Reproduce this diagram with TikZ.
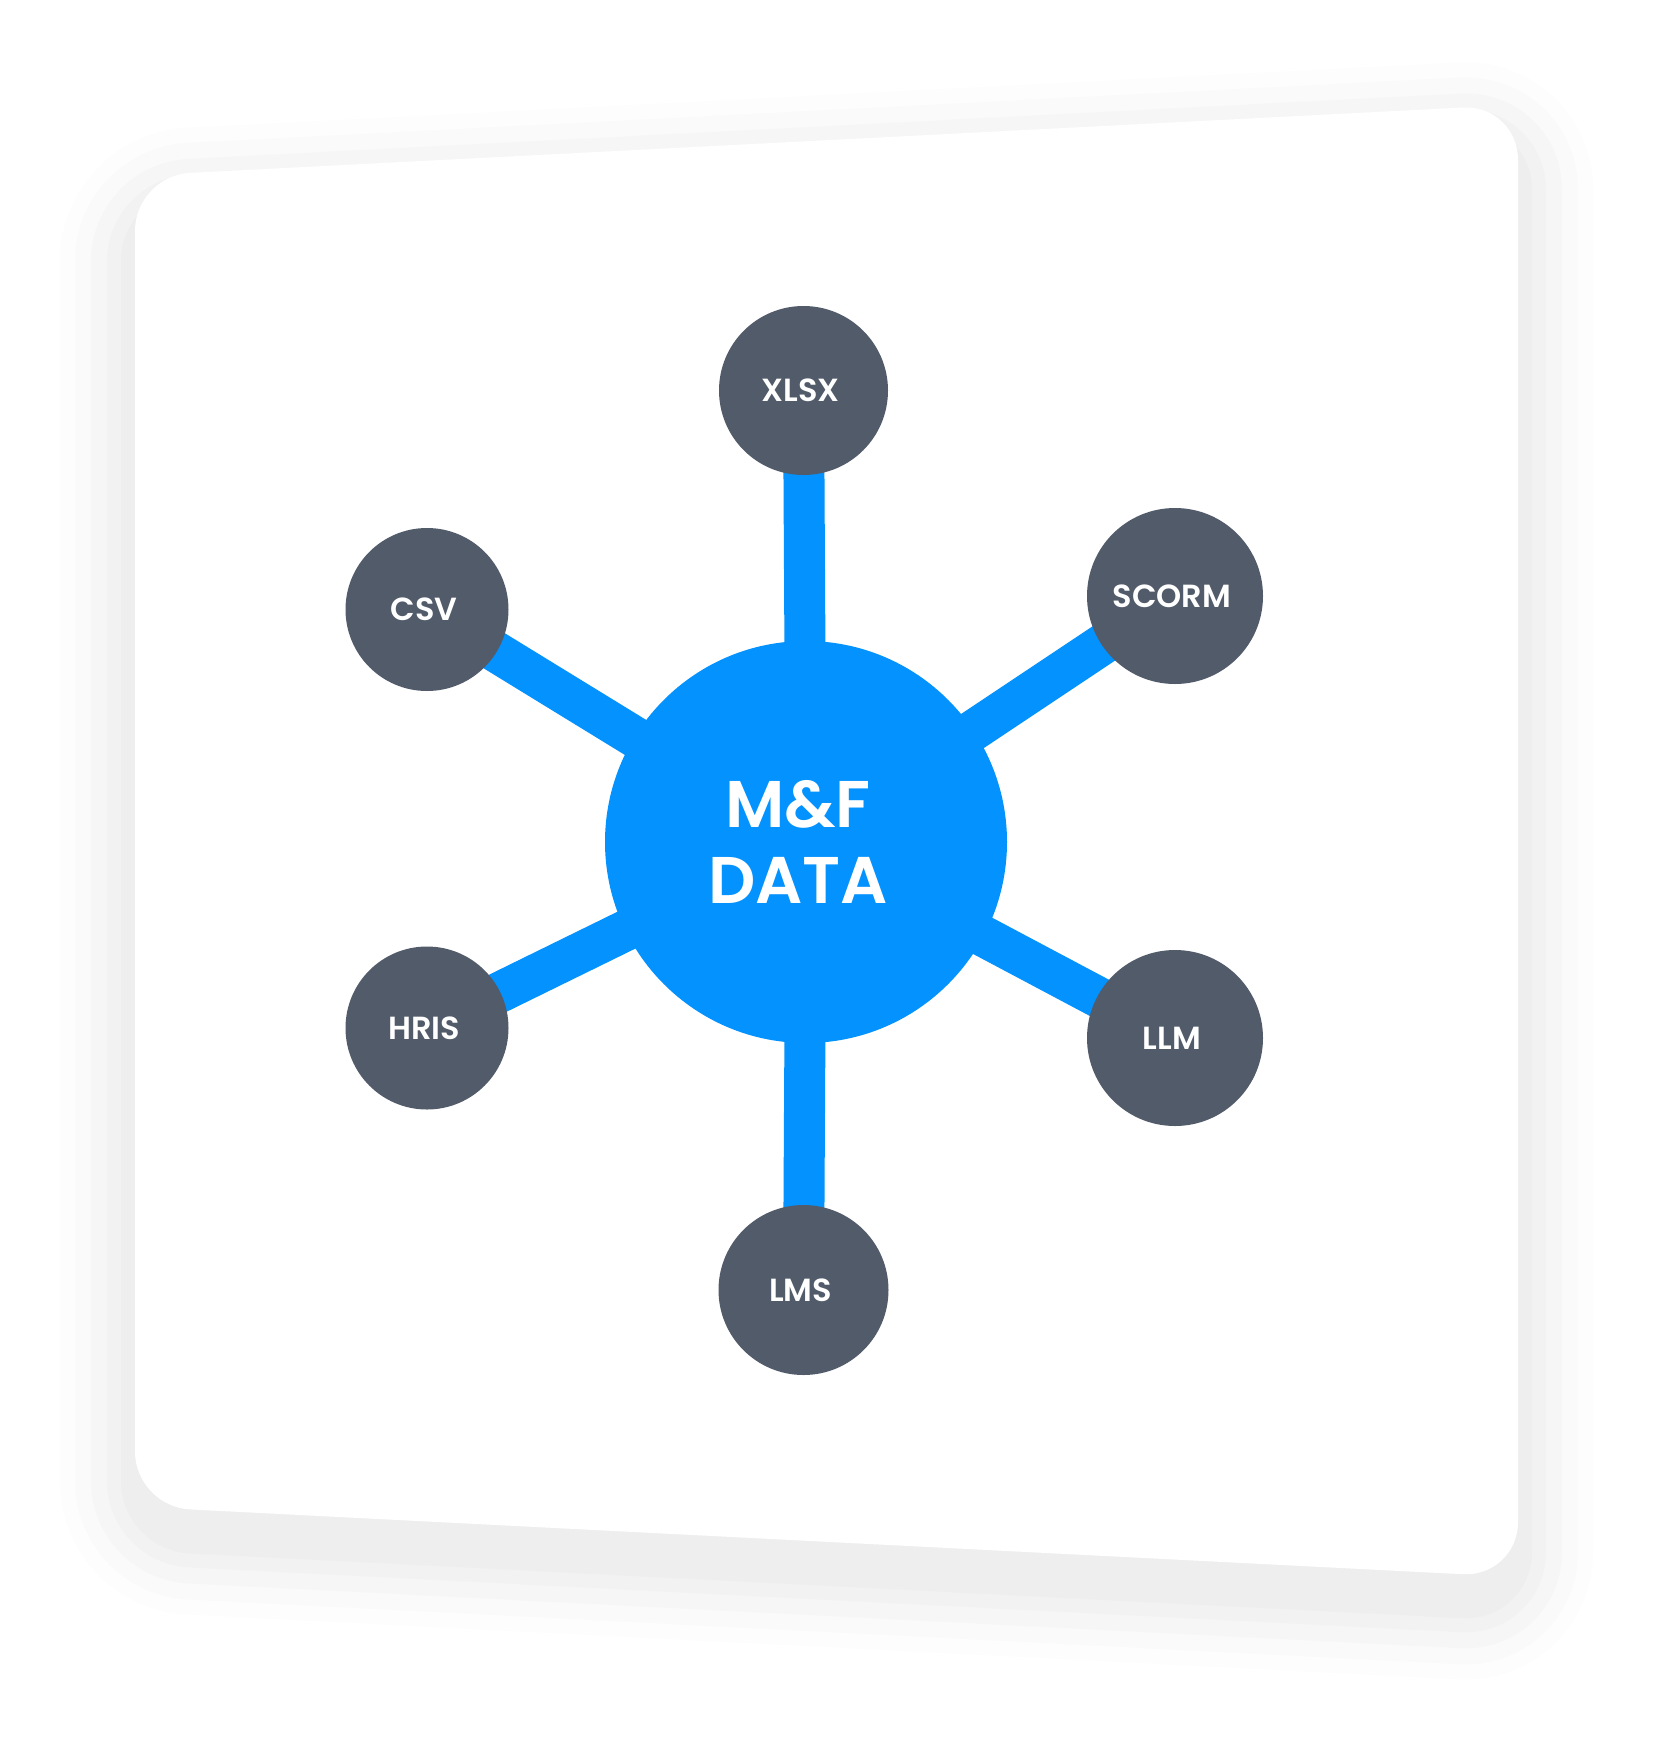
\documentclass[tikz,border=0pt]{standalone}
\usepackage{fontspec}
\IfFontExistsTF{Poppins SemiBold}
  {\setmainfont{Poppins}[BoldFont={Poppins SemiBold}]}
  {\setmainfont{Poppins}}
\definecolor{hubblue}{HTML}{0392FE}
\definecolor{satgray}{HTML}{525B6A}
\pgfdeclarelayer{bg}
\pgfdeclarelayer{lines}
\pgfsetlayers{bg,lines,main}
\begin{document}
\begin{tikzpicture}[x=1pt,y=-1pt,
  sat/.style={circle,fill=satgray,inner sep=0pt,text=white,font=\fontsize{32}{32}\selectfont\bfseries,
    execute at begin node={\hspace*{-6pt}}},
  hub/.style={circle,fill=hubblue,minimum size=402pt,inner sep=0pt,text=white,align=center,font=\fontsize{66}{76}\selectfont\bfseries},
  conn/.style={draw=hubblue,line width=41pt},
  cardshape/.style={rounded corners=55pt,line join=round}
]
\useasboundingbox (0,0) rectangle (1654,1743);
\def\cardpath{(700,146.7) -- (1518,104.7) -- (1518,1577) -- (135,1506.6) -- (135,175.7) -- cycle}
\begin{pgfonlayer}{bg}
\fill[white] (0,0) rectangle (1654,1743);
\foreach \w/\c in {150/FDFDFD,120/FAFAFA,88/F6F6F6,56/F2F2F2,28/EEEEEE}{
  \definecolor{shd}{HTML}{\c}
  \path[cardshape,fill=shd,draw=shd,line width=\w pt,shift={(0,30)}] \cardpath;
}
\fill[cardshape,white] \cardpath;
\end{pgfonlayer}

\node[hub] (hub) at (806,842) {\hspace*{-16pt}M\&F\\\hspace*{-16pt}DATA};
\node[sat,minimum size=169pt] (xlsx) at (803.5,390.5) {XLSX};
\node[sat,minimum size=163pt] (csv) at (427,609.5) {CSV};
\node[sat,minimum size=163pt] (hris) at (427,1028) {HRIS};
\node[sat,minimum size=176pt] (scorm) at (1175,596) {SCORM};
\node[sat,minimum size=176pt] (llm) at (1175,1038) {LLM};
\node[sat,minimum size=170pt] (lms) at (803.5,1290) {LMS};

\begin{pgfonlayer}{lines}
\draw[conn] (hub.center) -- (xlsx.center);
\draw[conn] (hub.center) -- (csv.center);
\draw[conn] (hub.center) -- (hris.center);
\draw[conn] (hub.center) -- (scorm.center);
\draw[conn] (hub.center) -- (llm.center);
\draw[conn] (hub.center) -- (lms.center);
\end{pgfonlayer}
\end{tikzpicture}
\end{document}
